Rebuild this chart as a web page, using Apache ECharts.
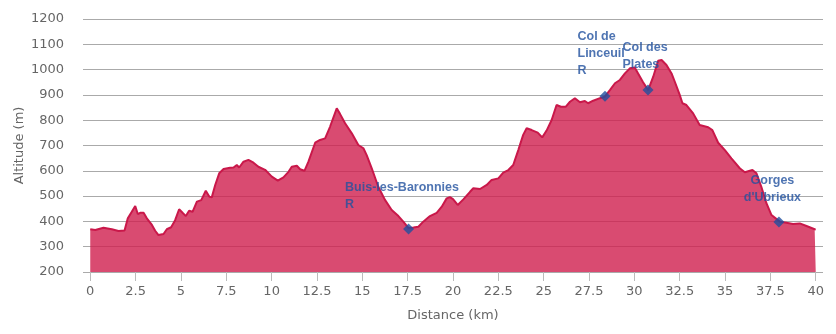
<!DOCTYPE html>
<html>
<head>
<meta charset="utf-8">
<script src="https://cdn.jsdelivr.net/npm/echarts@6/dist/echarts.min.js"></script>
<style>
html,body{margin:0;padding:0;background:#fff;}
#chart{width:836px;height:334px;}
</style>
</head>
<body>
<div id="chart"></div>
<script>
// Profile data (distance km, altitude m)
var distances = [0,0.28,0.73,1.19,1.56,1.89,2.07,2.29,2.48,2.62,2.75,2.94,3.12,3.4,3.58,3.76,4.04,4.22,4.46,4.68,4.9,5.09,5.27,5.45,5.64,5.88,6.12,6.37,6.56,6.7,6.89,7.11,7.35,7.71,7.9,8.08,8.21,8.45,8.72,9.0,9.27,9.64,10.01,10.34,10.65,10.93,11.11,11.39,11.57,11.81,12.03,12.4,12.67,12.95,13.22,13.59,13.77,14.05,14.42,14.78,15.06,15.24,15.52,15.88,16.25,16.62,16.99,17.26,17.54,17.82,18.09,18.36,18.73,19.1,19.38,19.65,19.83,20.0,20.26,20.57,20.94,21.12,21.49,21.86,22.13,22.5,22.77,23.05,23.32,23.6,23.87,24.06,24.34,24.67,24.92,25.16,25.44,25.71,25.95,26.21,26.45,26.72,27.0,27.27,27.45,27.73,28.1,28.37,28.65,28.93,29.2,29.48,29.75,30.03,30.12,30.48,30.76,31.04,31.31,31.5,31.77,32.05,32.23,32.5,32.65,32.87,33.24,33.6,34.07,34.3,34.62,34.99,35.35,35.81,36.09,36.51,36.73,37.0,37.28,37.56,38.02,38.38,38.75,39.12,39.49,39.94,40];
var altitudes = [369,366,375,369,362,364,412,438,461,429,434,434,412,386,363,346,350,369,377,405,448,434,421,442,438,478,484,521,498,495,544,590,607,612,613,623,613,636,643,632,616,604,577,561,574,596,616,620,606,600,636,711,722,728,774,847,825,788,748,702,689,662,610,537,485,445,421,399,374,376,379,399,421,434,458,491,496,488,465,487,517,531,528,544,564,570,593,603,623,682,742,768,761,751,732,759,801,860,853,853,873,887,871,876,867,877,887,893,919,946,959,985,1005,1008,995,950,919,972,1035,1038,1018,985,952,900,867,860,827,781,772,761,711,682,649,610,594,603,590,537,472,425,399,395,390,392,382,369,368];

// Waypoints
var wpNames = ['Buis-les-Baronnies\nR', 'Col de\nLinceuil\nR', 'Col des\nPlates', 'Gorges\nd\'Ubrieux'];
var wpDist = [17.55, 28.38, 30.75, 37.97];
var wpAlt = [370, 895, 919, 398];

// Tick labels
var xTicks = [0,2.5,5,7.5,10,12.5,15,17.5,20,22.5,25,27.5,30,32.5,35,37.5,40];

// label placement (styles, kept separate from data)
var wpLabelPos = [[-58,-44],[-22,-63],[-20,-46],[-1,-44]];
var wpLabelAlign = ['left','left','left','center'];

var profile = distances.map(function(d,i){ return [d, altitudes[i]]; });
var waypoints = wpNames.map(function(n,i){
  return {
    value: [wpDist[i], wpAlt[i]],
    name: n,
    label: { position: wpLabelPos[i], align: wpLabelAlign[i] }
  };
});

var chart = echarts.init(document.getElementById('chart'), null, {renderer:'canvas'});
chart.setOption({
  animation: false,
  backgroundColor: '#ffffff',
  grid: { left: 83, right: 13, top: 19, bottom: 62, containLabel: false, outerBoundsMode: 'none' },
  xAxis: {
    type: 'value',
    min: -0.4,
    max: 40.4,
    name: 'Distance (km)',
    nameLocation: 'middle',
    nameGap: 37,
    nameMoveOverlap: false,
    nameTextStyle: { color: '#666', fontSize: 13, fontFamily: 'DejaVu Sans' },
    axisLine: { show: false },
    axisTick: { show: true, customValues: xTicks, length: 9, lineStyle: { color: '#bbbbbb' } },
    axisLabel: { customValues: xTicks, color: '#666', fontSize: 13, fontFamily: 'DejaVu Sans', margin: 13 },
    splitLine: { show: false }
  },
  yAxis: {
    type: 'value',
    min: 200,
    max: 1200,
    interval: 100,
    name: 'Altitude (m)',
    nameLocation: 'middle',
    nameGap: 57,
    nameRotate: 90,
    nameMoveOverlap: false,
    nameTextStyle: { color: '#666', fontSize: 13, fontFamily: 'DejaVu Sans' },
    axisLine: { show: false },
    axisTick: { show: false },
    axisLabel: { color: '#666', fontSize: 13, fontFamily: 'DejaVu Sans', margin: 19,
                 formatter: function(v){ return String(v); } },
    splitLine: { show: true, lineStyle: { color: '#aaaaaa', width: 1 } }
  },
  series: [
    {
      type: 'line',
      data: profile,
      showSymbol: false,
      symbol: 'none',
      lineStyle: { color: '#c9184a', width: 2 },
      areaStyle: { color: 'rgb(207,30,78)', opacity: 0.8 },
      z: 2
    },
    {
      type: 'scatter',
      data: waypoints,
      symbol: 'diamond',
      symbolSize: 11,
      itemStyle: { color: '#1f4f9f' },
      label: {
        show: true,
        formatter: function(p){ return p.name; },
        color: '#22519f',
        fontSize: 12.5,
        fontWeight: 'bold',
        fontFamily: 'Liberation Sans',
        lineHeight: 17,
        verticalAlign: 'top'
      },
      z: 5
    }
  ]
});
</script>
</body>
</html>
